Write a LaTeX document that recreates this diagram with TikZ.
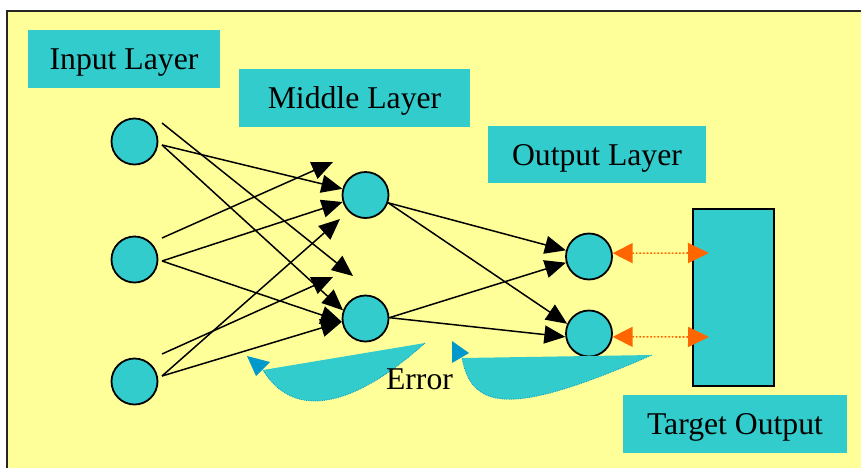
\documentclass[tikz,border=0pt]{standalone}
\usepackage{fontspec}
\setmainfont{Liberation Serif}
\usetikzlibrary{arrows.meta}
\definecolor{bgyellow}{HTML}{FFFF99}
\definecolor{tealc}{HTML}{33CCCC}
\definecolor{tipblue}{HTML}{0099CC}
\definecolor{orng}{HTML}{FF6600}
\begin{document}
\begin{tikzpicture}[x=1pt,y=-1pt,
  neuron/.style={circle, draw=black, line width=1.8pt, fill=tealc, minimum size=46pt, inner sep=0pt},
  layerbox/.style={fill=tealc, inner sep=0pt, font=\fontsize{31.7}{36}\selectfont, text height=21pt, text depth=0pt},
  bigtext/.style={font=\fontsize{31.7}{36}\selectfont, inner sep=0pt},
  link/.style={line width=1.5pt, -{Triangle[length=21pt,width=18pt]}},
  matcharrow/.style={draw=orng, fill=orng, dotted, line width=1.6pt, {Triangle[length=20pt,width=20pt]}-{Triangle[length=21pt,width=20pt]}},
  errshape/.style={fill=tealc},
  erredge/.style={draw=tipblue, densely dotted, line width=0.8pt},
  errtip/.style={fill=tipblue}
]
\useasboundingbox (0,0) rectangle (861,467);
\clip (0,0) rectangle (861,467);
\fill[white] (0,0) rectangle (861,467);
\fill[bgyellow] (7,11) rectangle (880,480);
\draw[line width=2pt, black!85] (7,480) -- (7,11) -- (880,11);

% layer labels
\node[layerbox, minimum width=192pt, minimum height=58pt] (inlbl) at (124,59) {Input Layer};
\node[layerbox, minimum width=231pt, minimum height=58pt] (midlbl) at (354.5,98) {Middle Layer};
\node[layerbox, minimum width=218pt, minimum height=57pt] (outlbl) at (597,154.5) {Output Layer};
\node[layerbox, minimum width=224pt, minimum height=58pt] (tgtlbl) at (735,424) {Target Output};

% target rectangle
\node[draw=black, line width=1.6pt, fill=tealc, minimum width=81pt, minimum height=177pt, inner sep=0pt] (target) at (733.5,297.5) {};

% neurons
\node[neuron] (i1) at (134.5,141.5) {};
\node[neuron] (i2) at (134.5,259.5) {};
\node[neuron] (i3) at (134.5,381.5) {};
\node[neuron] (m1) at (365.5,195) {};
\node[neuron] (m2) at (365.5,318.5) {};
\node[neuron] (o1) at (589,256.5) {};
\node[neuron] (o2) at (589,333.5) {};

% connector end points
\coordinate (s1) at (162,123);
\coordinate (s2) at (162,145);
\coordinate (s3) at (162,238);
\coordinate (s4) at (162,261);
\coordinate (s5) at (162,354);
\coordinate (s6) at (162,376);
\coordinate (e1) at (353,276);
\coordinate (e4) at (333,162);
\coordinate (e7) at (333,277);
\coordinate (e8) at (340,219);

\draw[link] (s1) -- (e1);
\draw[link] (s2) -- (m1.165);
\draw[link] (s2) -- (m2.160);
\draw[link] (s3) -- (e4);
\draw[link] (s4) -- (m1.197);
\draw[link] (s4) -- (m2.188);
\draw[link] (s5) -- (e7);
\draw[link] (s6) -- (e8);
\draw[link] (s6) -- (m2.188);

\draw[link] (m1.-19) -- (o1.165);
\draw[link] (m1.-19) -- (o2.156);
\draw[link] (m2.2) -- (o1.195);
\draw[link] (m2.2) -- (o2.188);

% target comparison
\coordinate (t1) at (709,253);
\coordinate (t2) at (709,337);
\draw[matcharrow] (o1.8) -- (t1);
\draw[matcharrow] (o2.-8) -- (t2);

% error arrows
\fill[errshape] (263,370) -- (425,343) .. controls (345,415) and (290,415) .. (263,370) -- cycle;
\draw[erredge] (425,343) .. controls (345,415) and (290,415) .. (263,370);
\fill[errtip] (247,356) -- (256,376) -- (270,362) -- cycle;

\fill[errshape] (462,358) -- (652,355) .. controls (515,415) and (472,412) .. (462,358) -- cycle;
\draw[erredge] (652,355) .. controls (515,415) and (472,412) .. (462,358);
\fill[errtip] (452,341) -- (452,363) -- (469,353) -- cycle;

\node[bigtext, anchor=base] (err) at (419.5,389) {Error};
\end{tikzpicture}
\end{document}
